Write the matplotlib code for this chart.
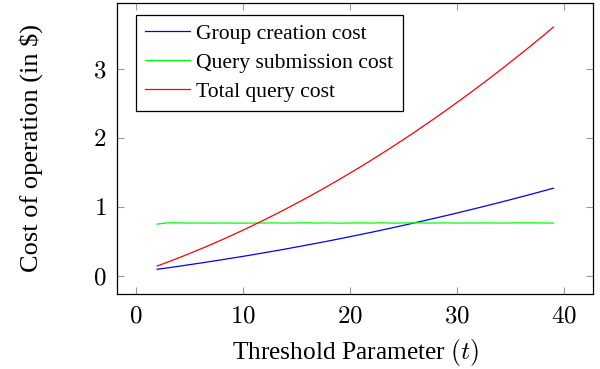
import matplotlib
matplotlib.use("Agg")
import matplotlib.pyplot as plt

plt.rcParams['font.family'] = ['Liberation Serif', 'DejaVu Serif']
plt.rcParams['mathtext.fontset'] = 'cm'

t = list(range(2, 40))
group_creation = [0.093, 0.114, 0.136, 0.159, 0.182, 0.206, 0.230, 0.255, 0.280, 0.306,
                  0.333, 0.360, 0.387, 0.416, 0.445, 0.474, 0.504, 0.535, 0.566, 0.598,
                  0.630, 0.663, 0.697, 0.731, 0.766, 0.801, 0.837, 0.873, 0.910, 0.948,
                  0.986, 1.025, 1.064, 1.104, 1.145, 1.186, 1.228, 1.270]
query_submission = [0.748, 0.768, 0.767, 0.764, 0.765, 0.763, 0.765, 0.764, 0.763, 0.764,
                    0.765, 0.766, 0.763, 0.765, 0.768, 0.764, 0.766, 0.762, 0.765, 0.767,
                    0.764, 0.768, 0.763, 0.765, 0.767, 0.764, 0.765, 0.766, 0.764, 0.765,
                    0.765, 0.766, 0.764, 0.765, 0.767, 0.768, 0.765, 0.764]
total_query = [0.140, 0.198, 0.258, 0.320, 0.384, 0.450, 0.518, 0.588, 0.660, 0.734,
               0.810, 0.888, 0.968, 1.050, 1.133, 1.219, 1.307, 1.397, 1.489, 1.582,
               1.678, 1.776, 1.876, 1.977, 2.081, 2.187, 2.294, 2.404, 2.516, 2.629,
               2.745, 2.862, 2.982, 3.104, 3.227, 3.352, 3.480, 3.610]
x_ticks = [0, 10, 20, 30, 40]
x_tick_labels = ['0', '10', '20', '30', '40']
y_ticks = [0, 1, 2, 3]
y_tick_labels = ['0', '1', '2', '3']

fig = plt.figure(figsize=(6.0, 3.69), dpi=100)
ax = fig.add_axes([0.1955, 0.2033, 0.7933, 0.7886])

ax.plot(t, group_creation, color='#0000ff', lw=0.9, label='Group creation cost')
ax.plot(t, query_submission, color='#00ff00', lw=0.9, label='Query submission cost')
ax.plot(t, total_query, color='#ff0000', lw=0.9, label='Total query cost')

ax.set_xlim(-1.72, 42.72)
ax.set_ylim(-0.266, 3.96)
ax.set_xticks(x_ticks)
ax.set_xticklabels(['$%s$' % s for s in x_tick_labels])
ax.set_yticks(y_ticks)
ax.set_yticklabels(['$%s$' % s for s in y_tick_labels])
ax.tick_params(direction='in', length=5, width=0.8, color='#999999',
               top=True, right=True, labelsize=18)
ax.tick_params(axis='x', pad=8)
ax.tick_params(axis='y', pad=8)
for s in ax.spines.values():
    s.set_linewidth(0.9)
    s.set_color('black')

ax.set_xlabel('Threshold Parameter $(t)$', fontsize=18.3, labelpad=7)
ax.set_ylabel('Cost of operation (in \\$)', fontsize=19, labelpad=36)

leg = ax.legend(loc='upper left', bbox_to_anchor=(0.04, 0.96), fontsize=15.6,
                frameon=True, fancybox=False, edgecolor='black', framealpha=1,
                handlelength=2.05, handletextpad=0.3, labelspacing=0.4,
                borderpad=0.42, borderaxespad=0.0)
leg.get_frame().set_linewidth(0.9)

fig.savefig('out.png', dpi=100)
